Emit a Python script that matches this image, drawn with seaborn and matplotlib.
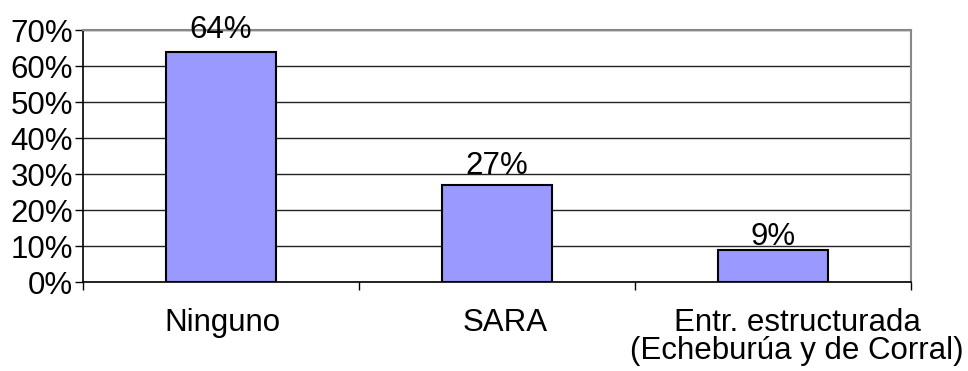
import matplotlib
matplotlib.use("Agg")
import matplotlib.pyplot as plt
from matplotlib.ticker import FixedLocator, FuncFormatter
from matplotlib.transforms import ScaledTranslation
import seaborn as sns
import pandas as pd

# Instrument used in the assessment (share of cases)
categories = ["Ninguno", "SARA", "Entr. estructurada\n(Echeburúa y de Corral)"]
shares = [64, 27, 9]
y_ticks = [0, 10, 20, 30, 40, 50, 60, 70]

sns.set_theme(style="white")
plt.rcParams["font.family"] = ["Liberation Sans", "DejaVu Sans"]

FS = 22.5
PX = 72 / 100  # points per pixel at 100 dpi

df = pd.DataFrame({"instrumento": categories, "porcentaje": shares})

fig = plt.figure(figsize=(9.68, 3.71), dpi=100)
ax = fig.add_axes([83 / 968, 1 - 282 / 371, (911 - 83) / 968, (282 - 30) / 371])

sns.barplot(data=df, x="instrumento", y="porcentaje", ax=ax, width=0.4,
            color="#9999FF", saturation=1, edgecolor="black", linewidth=1.5,
            zorder=3)

ax.set_xlim(-0.5, len(categories) - 0.5)
ax.set_ylim(0, 70)
ax.yaxis.set_major_locator(FixedLocator(y_ticks))
ax.yaxis.set_major_formatter(FuncFormatter(lambda v, _: f"{v:.0f}%"))
ax.grid(axis="y", color="#222222", linewidth=1.0, zorder=0)
ax.set_axisbelow(True)

# Category boundaries carry the x tick marks; labels sit at centres
ax.set_xticks([i - 0.5 for i in range(len(categories) + 1)], minor=True)
ax.tick_params(axis="x", which="minor", length=8 * PX, width=1.0,
               color="black", bottom=True)
ax.tick_params(axis="x", which="major", length=0, pad=19, labelsize=FS,
               labelcolor="black")
ax.tick_params(axis="y", length=8 * PX, width=1.0, color="black", left=True,
               pad=2 * PX, labelsize=FS, labelcolor="black")

# Category labels drift rightwards, the long one most of all
label_shift_px = [1, 8, 24]
for lab, dx in zip(ax.get_xticklabels(), label_shift_px):
    lab.set_linespacing(0.88)
    lab.set_transform(lab.get_transform()
                      + ScaledTranslation(dx / 100, 0, fig.dpi_scale_trans))

ax.set_xlabel("")
ax.set_ylabel("")

for side in ("left", "bottom"):
    ax.spines[side].set_color("black")
    ax.spines[side].set_linewidth(1.2)
for side in ("top", "right"):
    ax.spines[side].set_visible(True)
    ax.spines[side].set_color("#888888")
    ax.spines[side].set_linewidth(1.5)

# Value labels above each bar
label_gap_pt = [5, 3, -1.5]
for bar, value, gap in zip(ax.patches, shares, label_gap_pt):
    ax.annotate(f"{value}%", (bar.get_x() + bar.get_width() / 2, value),
                xytext=(0, gap), textcoords="offset points",
                ha="center", va="bottom", fontsize=FS, color="black",
                zorder=4)

fig.savefig("out.png", dpi=100, facecolor="white")
